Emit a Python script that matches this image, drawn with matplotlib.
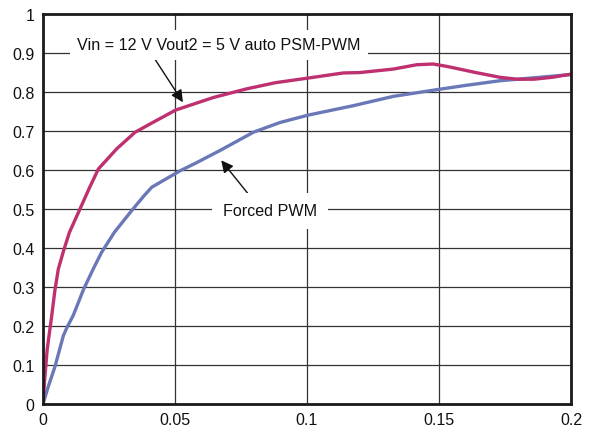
import matplotlib
matplotlib.use("Agg")
import matplotlib.pyplot as plt
import numpy as np

plt.rcParams['font.family'] = ['Liberation Sans', 'DejaVu Sans']

# Auto PSM-PWM efficiency (magenta)
x_psm = [0.0, 0.0006, 0.0016, 0.0033, 0.0045, 0.0058, 0.0077, 0.0100, 0.0140, 0.0175, 0.0210,
         0.0280, 0.0349, 0.0405, 0.0503, 0.0645, 0.0770, 0.0880, 0.1005, 0.1137, 0.1200,
         0.1327, 0.1415, 0.1477, 0.1529, 0.1640, 0.1730, 0.1795, 0.1860, 0.1930, 0.2000]
y_psm = [0.0, 0.06, 0.141, 0.226, 0.291, 0.346, 0.391, 0.44, 0.50, 0.553, 0.603,
         0.655, 0.697, 0.718, 0.754, 0.786, 0.808, 0.824, 0.836, 0.849, 0.850,
         0.859, 0.870, 0.872, 0.866, 0.850, 0.838, 0.833, 0.833, 0.838, 0.846]

# Forced PWM efficiency (blue)
x_pwm = [0.0, 0.0020, 0.0045, 0.0077, 0.0090, 0.0115, 0.0153, 0.0190, 0.0222, 0.0270,
         0.0330, 0.0380, 0.0412, 0.0519, 0.0582, 0.0670, 0.0797, 0.0898, 0.1005, 0.1175,
         0.1327, 0.1500, 0.1600, 0.1730, 0.1850, 0.2000]
y_pwm = [0.0, 0.045, 0.095, 0.175, 0.195, 0.228, 0.293, 0.346, 0.389, 0.44,
         0.491, 0.532, 0.556, 0.598, 0.619, 0.650, 0.697, 0.722, 0.741, 0.765,
         0.789, 0.807, 0.817, 0.829, 0.836, 0.845]

x_ticks = [0, 0.05, 0.1, 0.15, 0.2]
x_labels = ['0', '0.05', '0.1', '0.15', '0.2']
y_ticks = [0, 0.1, 0.2, 0.3, 0.4, 0.5, 0.6, 0.7, 0.8, 0.9, 1.0]
y_labels = ['0', '0.1', '0.2', '0.3', '0.4', '0.5', '0.6', '0.7', '0.8', '0.9', '1']

fig = plt.figure(figsize=(5.89, 4.31), dpi=100)
ax = fig.add_axes([0.073, 0.0603, 0.8964, 0.9047])

ax.plot(x_pwm, y_pwm, color='#6A78B8', lw=2.4, solid_capstyle='round',
        solid_joinstyle='round', zorder=3)
ax.plot(x_psm, y_psm, color='#BE3070', lw=2.4, solid_capstyle='round',
        solid_joinstyle='round', zorder=3)

ax.set_xlim(0, 0.2)
ax.set_ylim(0, 1)
ax.set_xticks(x_ticks)
ax.set_xticklabels(x_labels)
ax.set_yticks(y_ticks)
ax.set_yticklabels(y_labels)
ax.tick_params(length=0, labelsize=11.5, pad=6, colors='#111111')
ax.grid(True, color='#333333', lw=0.9, zorder=1)
for s in ax.spines.values():
    s.set_color('#1a1a1a')
    s.set_linewidth(2.0)
    s.set_zorder(5)

ax.annotate('Vin = 12 V Vout2 = 5 V auto PSM-PWM', xy=(0.053, 0.774), xytext=(0.0665, 0.921),
            ha='center', va='center', fontsize=11.6, color='#111111', zorder=4,
            bbox=dict(boxstyle='square,pad=0.45', fc='white', ec='none'),
            arrowprops=dict(arrowstyle='-|>', color='#111111', lw=1.0, mutation_scale=18,
                            shrinkA=0, shrinkB=0, relpos=(0.26, 0.0)))
ax.annotate('Forced PWM', xy=(0.0675, 0.625), xytext=(0.086, 0.495),
            ha='center', va='center', fontsize=11.6, color='#111111', zorder=4,
            bbox=dict(boxstyle='square,pad=0.65', fc='white', ec='none'),
            arrowprops=dict(arrowstyle='-|>', color='#111111', lw=1.0, mutation_scale=18,
                            shrinkA=0, shrinkB=0, relpos=(0.35, 1.0)))

fig.savefig('out.png', dpi=100)
